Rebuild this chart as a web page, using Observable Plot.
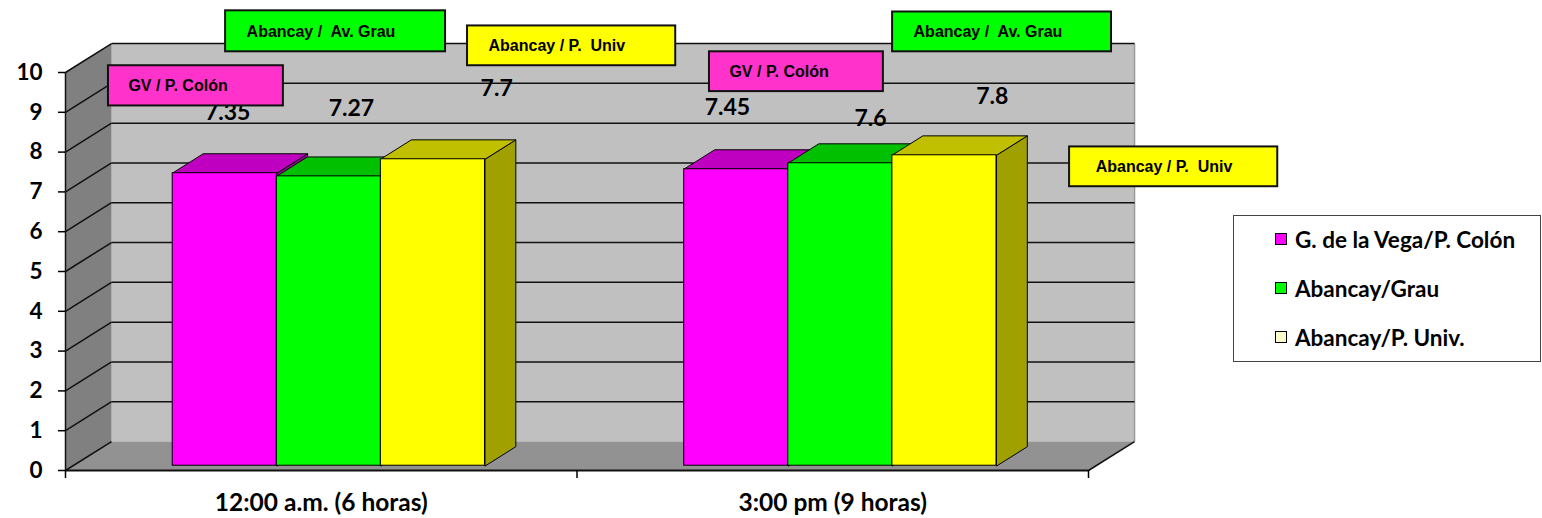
<!DOCTYPE html>
<html><head><meta charset="utf-8">
<script src="https://cdn.jsdelivr.net/npm/d3@7"></script>
<script src="https://cdn.jsdelivr.net/npm/@observablehq/plot@0.6"></script>
<style>
body{margin:0;background:#fff;}
#wrap{position:relative;width:1542px;height:518px;}
.legend{position:absolute;left:1233px;top:215px;width:308px;height:147px;border:1.5px solid #444;box-sizing:border-box;background:#fff;font-family:Lato,"Open Sans",sans-serif;font-weight:bold;font-size:22.5px;color:#000;}
.legend .row{position:absolute;left:41px;height:26px;display:flex;align-items:center;white-space:nowrap;}
.legend .sw{width:10px;height:10px;border:1.5px solid #000;margin-right:8px;}
</style></head><body><div id="wrap"></div>
<script>
// ---- data ----
const categories = ["12:00 a.m. (6 horas)", "3:00 pm (9 horas)"];
const seriesNames = ["G. de la Vega/P. Colón", "Abancay/Grau", "Abancay/P. Univ."];
const valuesGV = [7.35, 7.45];
const valuesGrau = [7.27, 7.6];
const valuesUniv = [7.7, 7.8];
const yTicks = [0, 1, 2, 3, 4, 5, 6, 7, 8, 9, 10];
const calloutTexts = ["GV / P. Colón", "Abancay /  Av. Grau", "Abancay / P.  Univ", "GV / P. Colón", "Abancay /  Av. Grau", "Abancay / P.  Univ"];

// ---- styles ----
const frontColors = ["#FF00FF", "#00FF00", "#FFFF00"];
const topColors = ["#C000C0", "#00C000", "#C0C000"];
const sideColors = ["#A000A0", "#00A000", "#A0A000"];
const legendColors = ["#FF00FF", "#00FF00", "#FFFFCC"];
const calloutColors = ["#FF33CC", "#00FF00", "#FFFF00", "#FF33CC", "#00FF00", "#FFFF00"];

// ---- layout (data units: x = category units, y = value units) ----
const DX = 0.09, DY = 0.728;          // depth of the 3D box
const BAR_W = 0.2035, Z0 = 0.165, Z1 = 0.835;
const labelPos = [[0.317, 8.99], [0.559, 9.09], [0.843, 9.59], [1.294, 9.12], [1.574, 8.84], [1.812, 9.40]];
const calloutPos = [ // x1, x2, y1, y2, textX, textY
  [0.084, 0.426, 9.16, 10.17, 0.123, 9.67],
  [0.313, 0.743, 10.52, 11.55, 0.354, 11.02],
  [0.786, 1.193, 10.17, 11.17, 0.827, 10.67],
  [1.259, 1.599, 9.52, 10.52, 1.298, 10.02],
  [1.617, 2.045, 10.52, 11.52, 1.658, 11.02],
  [1.963, 2.370, 7.13, 8.13, 2.014, 7.63]
];

const seriesValues = [valuesGV, valuesGrau, valuesUniv];
const bars = [];
categories.forEach((c, i) => {
  seriesValues.forEach((vals, j) => {
    const x0 = i + 0.5 + (j - 1.5) * BAR_W;
    bars.push({cat: c, s: j, v: vals[i], x0, x1: x0 + BAR_W});
  });
});

const wallPolys = [];
function wpoly(id, fill, pts) { pts.forEach(([x, y]) => wallPolys.push({id, fill, x, y})); }
wpoly("back", "#C0C0C0", [[DX, DY], [2 + DX, DY], [2 + DX, 10 + DY], [DX, 10 + DY]]);
wpoly("left", "#808080", [[0, 0], [0, 10], [DX, 10 + DY], [DX, DY]]);
wpoly("floor", "#929292", [[0, 0], [2, 0], [2 + DX, DY], [DX, DY]]);

const sides = [], tops = [];
bars.forEach((b, k) => {
  const a = b.x0 + Z0 * DX, e = b.x1 + Z0 * DX, a2 = b.x0 + Z1 * DX, e2 = b.x1 + Z1 * DX;
  const y0 = Z0 * DY, yt = b.v + Z0 * DY, y02 = Z1 * DY, yt2 = b.v + Z1 * DY;
  [[e, y0], [e, yt], [e2, yt2], [e2, y02]].forEach(([x, y]) => sides.push({id: k, fill: sideColors[b.s], x, y}));
  [[a, yt], [e, yt], [e2, yt2], [a2, yt2]].forEach(([x, y]) => tops.push({id: k, fill: topColors[b.s], x, y}));
});

const labels = bars.map((b, k) => ({t: String(b.v), x: labelPos[k][0], y: labelPos[k][1]}));
const callouts = calloutTexts.map((t, k) => ({t, fill: calloutColors[k], x1: calloutPos[k][0], x2: calloutPos[k][1], y1: calloutPos[k][2], y2: calloutPos[k][3], tx: calloutPos[k][4], ty: calloutPos[k][5]}));

const chart = Plot.plot({
  width: 1542, height: 518,
  marginLeft: 65, marginRight: 454, marginTop: 72, marginBottom: 48,
  x: {domain: [0, 2]},
  y: {domain: [0, 10]},
  color: {type: "identity"},
  style: {fontFamily: "Lato, 'Open Sans', sans-serif", fontSize: "21px", fontWeight: "bold", color: "#000", background: "#fff"},
  marks: [
    Plot.line(wallPolys, {x: "x", y: "y", z: "id", fill: "fill", stroke: null, curve: "linear-closed"}),
    Plot.link([0], {x1: 2 + DX, x2: 2 + DX, y1: DY, y2: 10 + DY, stroke: "#9a9a9a", strokeWidth: 1.5}),
    Plot.link(yTicks.filter(v => v > 0), {x1: DX, x2: 2 + DX, y1: v => v + DY, y2: v => v + DY, stroke: "#111", strokeWidth: 1.5}),
    Plot.link(yTicks, {x1: 0, x2: DX, y1: v => v, y2: v => v + DY, stroke: "#111", strokeWidth: 1.5}),
    Plot.link([0], {x1: 2, x2: 2 + DX, y1: 0, y2: DY, stroke: "#111", strokeWidth: 1.5}),
    Plot.ruleX([0], {y1: 0, y2: 10, stroke: "#111", strokeWidth: 1.5}),
    Plot.ruleY([0], {x1: 0, x2: 2, stroke: "#111", strokeWidth: 2}),
    Plot.axisY({ticks: yTicks, tickSize: 7, tickPadding: 16, tickFormat: d => String(d), label: null, strokeWidth: 1.5, fontSize: 22.5, fontWeight: "bold", fill: "#000"}),
    Plot.axisX({ticks: [0, 1, 2], tickSize: 8, tickFormat: () => "", label: null, strokeWidth: 1.5}),
    Plot.text(categories, {x: (d, i) => i + 0.5, y: 0, dy: 33, text: d => d, lineAnchor: "middle", fontSize: 24.5, fontWeight: "bold", fill: "#000"}),
    Plot.line(sides, {x: "x", y: "y", z: "id", fill: "fill", stroke: "#000", strokeWidth: 1, curve: "linear-closed"}),
    Plot.line(tops, {x: "x", y: "y", z: "id", fill: "fill", stroke: "#000", strokeWidth: 1, curve: "linear-closed"}),
    Plot.rect(bars, {x1: d => d.x0 + Z0 * DX, x2: d => d.x1 + Z0 * DX, y1: Z0 * DY, y2: d => d.v + Z0 * DY, fill: d => frontColors[d.s], stroke: "#000", strokeWidth: 1}),
    Plot.text(labels, {x: "x", y: "y", text: "t", lineAnchor: "middle", fontSize: 23, fontWeight: "bold", fill: "#000"}),
    Plot.rect(callouts, {x1: "x1", x2: "x2", y1: "y1", y2: "y2", fill: "fill", stroke: "#111", strokeWidth: 2}),
    Plot.text(callouts, {x: "tx", y: "ty", text: "t", textAnchor: "start", lineAnchor: "middle", fontFamily: "'Liberation Sans', Arial, sans-serif", fontSize: 16, fontWeight: "bold", fill: "#000"})
  ]
});

const wrap = document.getElementById("wrap");
wrap.appendChild(chart);
const legend = document.createElement("div");
legend.className = "legend";
const rowTops = [10, 59, 108];
seriesNames.forEach((n, k) => {
  const row = document.createElement("div");
  row.className = "row";
  row.style.top = rowTops[k] + "px";
  const sw = document.createElement("span");
  sw.className = "sw";
  sw.style.background = legendColors[k];
  const tx = document.createElement("span");
  tx.textContent = n;
  row.appendChild(sw); row.appendChild(tx);
  legend.appendChild(row);
});
wrap.appendChild(legend);
</script></body></html>
